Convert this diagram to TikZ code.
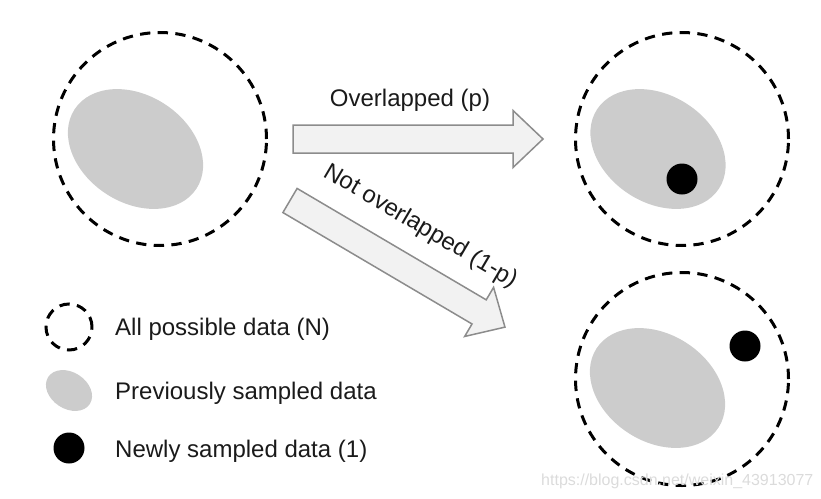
\documentclass[tikz,border=0pt]{standalone}
\usepackage{fontspec}
\setmainfont{Liberation Sans}
\usetikzlibrary{shapes.geometric}
\definecolor{prevgray}{HTML}{CCCCCC}
\definecolor{arrowfill}{HTML}{F2F2F2}
\definecolor{arrowline}{HTML}{8C8C8C}
\definecolor{txtcol}{HTML}{1A1A1A}
\begin{document}
\begin{tikzpicture}[x=1pt,y=-1pt,
  allset/.style={circle, draw=black, line width=3pt, dash pattern=on 10.3pt off 7.4pt, inner sep=0pt, minimum size=#1},
  prevset/.style={ellipse, fill=prevgray, draw=none, inner sep=0pt, rotate=-33},
  newset/.style={circle, fill=black, draw=none, inner sep=0pt, minimum size=31pt},
  blockarrow/.style={fill=arrowfill, draw=arrowline, line width=1.5pt, line join=miter},
  lbl/.style={font=\fontsize{24}{28}\selectfont, text=txtcol, inner sep=0pt},
  wmark/.style={font=\fontsize{16}{19}\selectfont, text=black!14, inner sep=0pt}]
\useasboundingbox (0,0) rectangle (821,498);

% left: all data with previous sample
\node[prevset, minimum width=145.4pt, minimum height=107.2pt] (P0) at (135.5,149) {};
\node[allset=213pt] (U0) at (160,139) {};

% top right: overlapped
\node[prevset, minimum width=145.4pt, minimum height=107.2pt] (P1) at (658,149) {};
\node[newset] (N1) at (682,179) {};
\node[allset=213pt] (U1) at (682,139) {};

% bottom right: not overlapped
\node[prevset, minimum width=145.4pt, minimum height=107.2pt] (P2) at (657.5,388) {};
\node[newset] (N2) at (745,346) {};
\node[allset=213pt] (U2) at (682,379) {};

% block arrows
\begin{scope}[shift={(293,139)}]
  \draw[blockarrow] (0,-14) -- (220,-14) -- (220,-28.5) -- (250,0) -- (220,28.5) -- (220,14) -- (0,14) -- cycle;
\end{scope}
\begin{scope}[shift={(290,200.5)}, rotate=-30.5]
  \draw[blockarrow] (0,-14) -- (219.5,-14) -- (219.5,-28.5) -- (249.5,0) -- (219.5,28.5) -- (219.5,14) -- (0,14) -- cycle;
\end{scope}

\node[lbl, anchor=base] (t1) at (410,106) {Overlapped (p)};
\node[lbl, anchor=base, rotate=-30.5] (t2) at (417.5,232) {Not overlapped (1-p)};

% legend
\node[allset=46pt] (L1) at (69,327) {};
\node[prevset, minimum width=49.6pt, minimum height=36.6pt] (L2) at (69,390.5) {};
\node[newset] (L3) at (69,448) {};
\node[lbl, anchor=base west] (T1) at (115,335) {All possible data (N)};
\node[lbl, anchor=base west] (T2) at (115,399) {Previously sampled data};
\node[lbl, anchor=base west] (T3) at (115,457) {Newly sampled data (1)};

% watermark
\node[wmark, anchor=base west] (wm) at (541,485) {https://blog.csdn.net/weixin\_43913077};
\end{tikzpicture}
\end{document}
